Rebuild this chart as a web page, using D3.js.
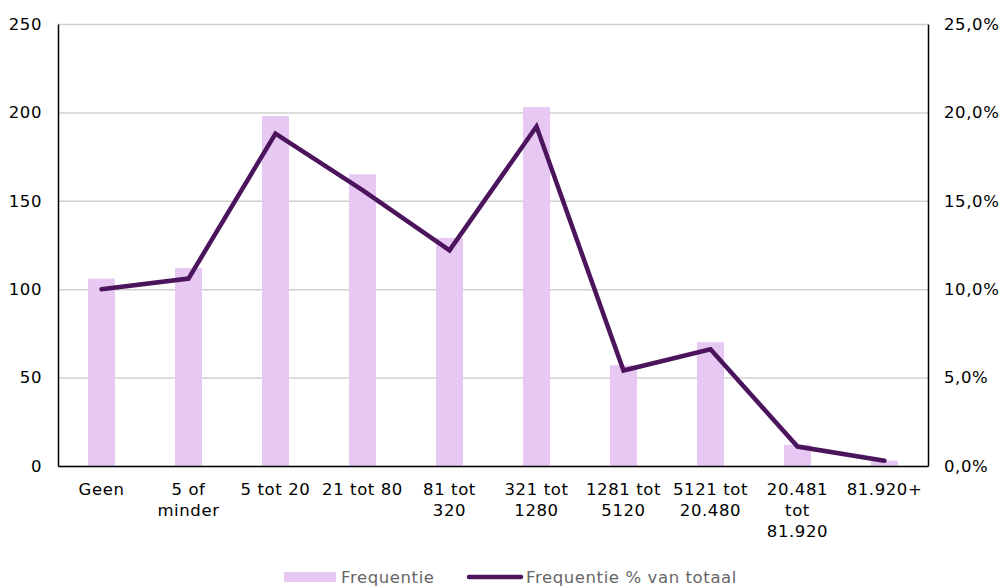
<!DOCTYPE html>
<head>
    <meta charset="utf-8">
    <script src="https://d3js.org/d3.v7.min.js"></script>
    <style>
      body { margin: 0; background: #fff; }
      text {
        font-family: Verdana, "DejaVu Sans", sans-serif;
        fill: #000;
      }
      .ticklabel { font-size: 16.5px; letter-spacing: 0.6px; }
      .legendtext { font-size: 16.5px; letter-spacing: 0.6px; fill: #666; }
    </style>
<body>
    <script>
        var categories = ["Geen","5 of minder","5 tot 20","21 tot 80","81 tot 320","321 tot 1280","1281 tot 5120","5121 tot 20.480","20.481 tot 81.920","81.920+"]
        var labelLines = [["Geen"],["5 of","minder"],["5 tot 20"],["21 tot 80"],["81 tot","320"],["321 tot","1280"],["1281 tot","5120"],["5121 tot","20.480"],["20.481","tot","81.920"],["81.920+"]]
        var frequentie = [106, 112, 198, 165, 129, 203, 57, 70, 12, 3]
        var percentage = [0.100, 0.106, 0.188, 0.156, 0.122, 0.192, 0.054, 0.066, 0.011, 0.003]
        var leftTicks = [0, 50, 100, 150, 200, 250]
        var rightTicks = [0, 0.05, 0.10, 0.15, 0.20, 0.25]

        var svg_w = 1003
        var svg_h = 586
        var margin = {left: 58, right: 75, top: 24, bottom: 120}
        var width = svg_w - margin.left - margin.right
        var height = svg_h - margin.top - margin.bottom

        var svg = d3.select("body").append("svg")
          .attr("width", svg_w)
          .attr("height", svg_h)

        var g = svg.append("g")
          .attr("transform", "translate("+margin.left+","+margin.top+")")

        var xScale = d3.scaleBand().domain(categories).range([0, width])
        var yLeft = d3.scaleLinear().domain([0, 250]).range([height, 0])
        var yRight = d3.scaleLinear().domain([0, 0.25]).range([height, 0])

        // gridlines
        var grid = g.append("g")
          .call(d3.axisLeft(yLeft).tickValues(leftTicks).tickSize(-width).tickFormat(""))
        grid.select(".domain").remove()
        grid.selectAll("line").attr("stroke", "#d0d0d0").attr("stroke-width", 1.5)

        // bars
        var barW = 27
        g.selectAll(".bar")
          .data(frequentie)
          .enter()
          .append("rect")
          .classed("bar", true)
          .attr("x", function(d, i){ return xScale(categories[i]) + xScale.bandwidth()/2 - barW/2 })
          .attr("y", function(d){ return yLeft(d) })
          .attr("width", barW)
          .attr("height", function(d){ return height - yLeft(d) })
          .attr("fill", "#e6c8f3")

        // line
        var line = d3.line()
          .x(function(d, i){ return xScale(categories[i]) + xScale.bandwidth()/2 })
          .y(function(d){ return yRight(d) })
        g.append("path")
          .datum(percentage)
          .attr("d", line)
          .attr("fill", "none")
          .attr("stroke", "#4b145c")
          .attr("stroke-width", 4.5)
          .attr("stroke-linecap", "round")
          .attr("stroke-linejoin", "miter")

        // left axis
        var leftAxis = g.append("g")
          .call(d3.axisLeft(yLeft).tickValues(leftTicks).tickSize(0).tickPadding(16))
        leftAxis.select(".domain").attr("stroke", "#000").attr("stroke-width", 1.5)
        leftAxis.selectAll("text").classed("ticklabel", true).attr("font-size", null).attr("font-family", null)

        // right axis
        var fmtPct = function(d){ return d3.format(".1f")(d*100).replace(".", ",") + "%" }
        var rightAxis = g.append("g")
          .attr("transform", "translate("+width+",0)")
          .call(d3.axisRight(yRight).tickValues(rightTicks).tickSize(0).tickPadding(16).tickFormat(fmtPct))
        rightAxis.select(".domain").attr("stroke", "#000").attr("stroke-width", 1.5)
        rightAxis.selectAll("text").classed("ticklabel", true).attr("font-size", null).attr("font-family", null)

        // bottom axis
        var bottomAxis = g.append("g")
          .attr("transform", "translate(0,"+height+")")
          .call(d3.axisBottom(xScale).tickSize(0).tickFormat(""))
        bottomAxis.select(".domain").attr("stroke", "#000").attr("stroke-width", 1.5)
        bottomAxis.selectAll(".tick").each(function(d, i){
          var t = d3.select(this).append("text")
            .classed("ticklabel", true)
            .attr("text-anchor", "middle")
            .attr("y", 29)
          labelLines[i].forEach(function(s, j){
            t.append("tspan").attr("x", 0).attr("dy", j == 0 ? 0 : 21).text(s)
          })
        })

        // legend
        var legend = svg.append("g").attr("transform", "translate(284,572)")
        legend.append("rect").attr("x", 0).attr("y", 0).attr("width", 52).attr("height", 10).attr("fill", "#e6c8f3")
        legend.append("text").classed("legendtext", true).attr("x", 57).attr("y", 11).text("Frequentie")
        legend.append("line").attr("x1", 185).attr("x2", 237).attr("y1", 5).attr("y2", 5)
          .attr("stroke", "#4b145c").attr("stroke-width", 4.5).attr("stroke-linecap", "round")
        legend.append("text").classed("legendtext", true).attr("x", 242).attr("y", 11).text("Frequentie % van totaal")
    </script>
</body>
